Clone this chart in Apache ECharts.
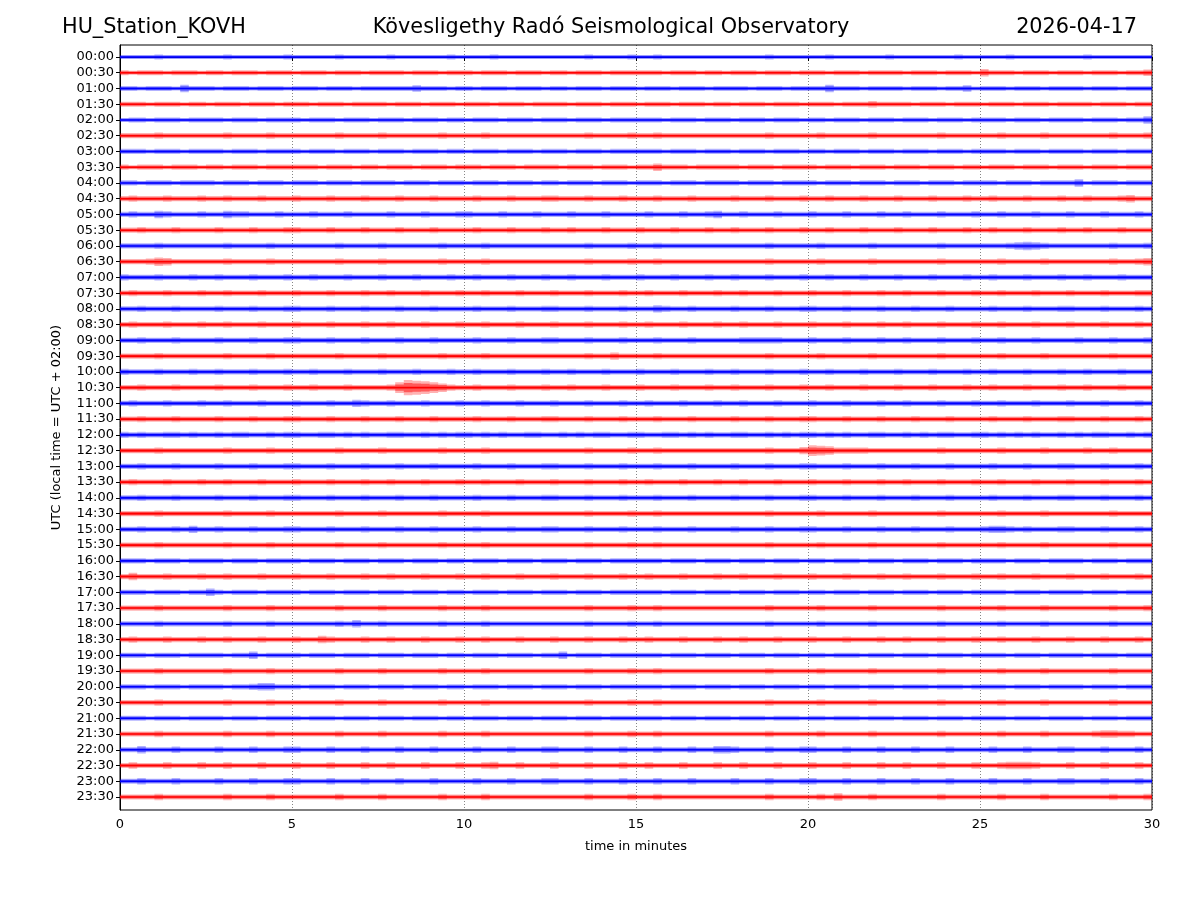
<!DOCTYPE html>
<html><head><meta charset="utf-8">
<script src="https://cdn.jsdelivr.net/npm/echarts@6/dist/echarts.min.js"></script>
<style>html,body{margin:0;background:#fff}#c{width:1200px;height:900px}</style>
</head><body><div id="c"></div>
<script>
// Trace start times (one helicorder line per 30 minutes)
const timeLabels = ["00:00","00:30","01:00","01:30","02:00","02:30","03:00","03:30","04:00","04:30","05:00","05:30",
"06:00","06:30","07:00","07:30","08:00","08:30","09:00","09:30","10:00","10:30","11:00","11:30",
"12:00","12:30","13:00","13:30","14:00","14:30","15:00","15:30","16:00","16:30","17:00","17:30",
"18:00","18:30","19:00","19:30","20:00","20:30","21:00","21:30","22:00","22:30","23:00","23:30"];
const xTicks = [0, 5, 10, 15, 20, 25, 30];
const binMinutes = 0.25;   // each character = 15 s bin
const ampBase = 0.06;      // half-thickness of the trace itself, in trace-spacing units
const ampUnit = 0.035;     // one amplitude step, in trace-spacing units
// Half-envelope amplitude per bin (base-36 digits)
const traceAmp = [
"2222322222 2232222223 2222232222 2322222232 2223222222 2222322223 2232222222 2222232222 2232222223 2222222322 2223222222 2232222222",
"3233323332 3323332333 2333233323 3332333233 3233323332 3323332333 3332333233 2333233323 3323332333 3233323332 5333233323 3323332334",
"3323332533 3233323332 3332333233 3333433323 3233323332 3323332333 2333233323 3332333233 3353332333 3233323342 3332333233 3323332333",
"3332333233 2333233323 3323332333 3233323332 3332333233 3323332333 2333233323 3233323332 3332333433 3323332333 2333233323 3332333233",
"2332333233 3323332333 3233323332 3332333233 2333233323 3323332333 3332333233 3233323332 3323332333 2333233323 3332333233 3323332335",
"3333433333 3343333433 3333343333 4333333433 3343333333 3333433334 3343333333 3333343333 3433333433 3333343333 3343333433 3333343334",
"3332333233 3323332333 3233323332 3332333233 2333233323 3323332333 3332333233 3233323332 3323332333 2333233323 3332333233 3323332333",
"3233323332 3323332333 3332333233 2333233323 3323332333 3233323332 3353332333 3323332333 3233323332 3332333233 2333233323 3323332333",
"3323332333 3233323332 3332333233 3323332333 2333233323 3233323332 3332333233 3323332333 3233323332 3332333233 3323332333 3523332333",
"3433343334 3343334333 4333433343 3343334333 3433343334 4333433343 3343334333 3433343334 3343334333 4333433343 3433343334 3343334533",
"3433543334 3354433343 3343334333 3433343334 4333433343 3343334333 3433343345 3343334333 4333433343 3433343334 3343334333 4333433343",
"3343334333 3433343334 4333433343 3343334333 3433343334 3343334333 4333433343 3433343334 3343334333 4333433343 3433343334 3343334333",
"3333433333 3343333433 3333343333 4333333433 3343333333 3333433334 3343333333 3333343333 3433333433 3333343333 3334565433 3333343334",
"3334653333 3343333433 3333343333 4333333433 3343333333 3333433334 3343333333 3333343333 3433333433 3333343333 3343333433 3333343345",
"4333433343 3433343334 3343334333 4333433343 3433343334 3343334333 4333433343 3433343334 3343334333 4333433343 3433343334 3343334333",
"3433343334 3343334333 4333433343 3433343334 3343334333 4333433343 3433343334 3343334333 4333433343 3433343334 3343334333 4333433344",
"3343334333 3433343334 4333433343 3343334333 3433343334 4333433343 3354334333 3433343334 4333433343 3343334333 3433343334 4333433343",
"3433343334 3343334333 4333433343 3433343334 3343334333 4333433343 3433343334 3343334333 4333433343 3433343334 3343334333 4333433343",
"3343334333 3433343334 4333433343 3343334333 3433343334 4333433343 3343334333 3344444333 4333433343 3433343334 3343334333 3433343334",
"3333433333 3343333433 3333343333 4333333433 3343333333 3333433533 3343333333 3333343333 3433333433 3333343333 3343333433 3333343333",
"4333433343 3433343334 3343334333 4333433343 3433343334 3343334333 4333433343 3433343334 3343334333 4333433343 3433343334 3343334333",
"3343334333 3433343334 3343334333 348cba8643 3433343334 3343334333 4333433343 3433343334 3343334333 4333433343 3433343334 3343334333",
"3433343334 3343334333 4333433543 3433343334 3343334333 4333433343 3433343334 3343334333 4333433343 3433343334 3343334333 4333433343",
"3343334333 3433343334 4333433343 3343334333 3433343334 4333433343 3343334333 3433343334 4333433343 3343334333 3433343334 4333433343",
"4343344343 3434433434 4334434343 3443343434 4343433443 3434344334 4334434343 3443343434 4343433443 3434344334 4343434334 3434433434",
"3333433333 3343333433 3333343333 4333333433 3343333333 3333433334 3343333333 3333343335 8764444333 3333343333 3343333433 3343343333",
"3343334333 3433343334 4333433343 3343334333 3433343334 4333433343 3343334333 3433343334 4333433343 3343334333 3433343334 4333433343",
"3433343334 3343334333 4333433343 3433343334 3343334333 4333433343 3433343334 3343334333 4333433343 3433343334 3343334333 4333433343",
"3343334333 3433343334 4333433343 3343334333 3433343334 4333433343 3343334333 3433343334 4333433343 3343334333 3433343334 4333433343",
"3333433333 3343333433 3333343333 4333333433 3343333333 3333433334 3343333333 3333343333 3433333433 3333343333 3343333433 3333343333",
"3343334353 3433343334 4333433343 3343334333 3433343334 4333433343 3343334333 3433343334 4333433343 3343334333 4554343334 4333433343",
"3333433333 3343333433 3333343333 4333333433 3343333333 3333433334 3343333333 3333343333 3433333433 3333343333 3343333433 3333343333",
"3332333233 3323332333 3233323332 3332333233 2333233323 3323332333 3332333233 3233323332 3323332333 2333233323 3332333233 3323332333",
"3533343334 3343334333 4333433343 3433343334 3343334333 4333433343 3433343334 3343334333 4333433343 3433343334 3343334333 4333433343",
"3332333233 5323332333 3233323332 3332333233 2333233323 3323332333 3332333233 3233323332 3323332333 2333233323 3332333233 3323332333",
"3333433333 3343333433 3333343333 4333333433 3343333333 3333433334 3343333333 3333343333 3433333433 3333343333 3343333433 3333343334",
"3333433333 3343333433 3333343533 4333333433 3343333333 3333433334 3343333333 3333343333 3433333433 3333343333 3343333433 3333343333",
"3433343334 3343334333 4335433343 3433343334 3343334333 4333433343 3433343334 3343334333 4333433343 3433343334 3343334333 4333433343",
"3332333233 3323352333 3233323332 3332333233 2333233323 3523332333 3332333233 3233323332 3323332333 2333233323 3332333233 3323332333",
"3333433333 3343333433 3333343333 4333333433 3343333333 3333433334 3343333333 3333343333 3433333433 3333343333 3343333433 3333343333",
"3332333233 3323345533 3233323332 3332333233 2333233323 3323332333 3332333233 3233323332 3323332333 2333233323 3332333233 3323332333",
"3333433333 3343333433 3333343333 4333333433 3343333333 3333433334 3343333333 3333343333 3433333433 3333343333 3343333433 3333343333",
"3332333233 3323332333 3233323332 3332333233 2333233323 3323332333 3332333233 3233323332 3323332333 2333233323 3332333233 3323332333",
"3333433333 3343333433 3333343333 4333333433 3343333333 3333433334 3343333333 3333343333 3433333433 3333343333 3343333433 3334554433",
"3353334333 3433343334 4333433343 3343334333 3433343334 4333433343 3343334335 5433343334 4333433343 3343334333 3433343334 4333433343",
"3433343334 3343334333 4333433343 3433343334 3345334333 4333433343 3433343334 3343334333 4333433343 3433343334 3345554333 4333433343",
"3343334333 3433343334 4333433343 3343334333 3433343334 4333433343 3343334333 3433343334 4333433343 3343334333 3433343334 4333433343",
"3333433333 3343333433 3333343333 4333333433 3343333333 3333433334 3343333333 3333343333 3435333433 3333343333 3343333433 3333343334"
];
const traceColors = ["#0000ff", "#ff0000"];

function parseAmp(s) {
  return s.replace(/\s+/g, "").split("").map(c => parseInt(c, 36));
}
const ampData = traceAmp.map(parseAmp);
const totalMinutes = 30;

const chart = echarts.init(document.getElementById('c'), null, {renderer: 'canvas'});
const font = 'DejaVu Sans';
const titleStyle = {fontFamily: font, fontSize: 20.8, fill: '#000', textVerticalAlign: 'middle'};

function envelope(api, i, a, scale) {
  const up = [], dn = [];
  for (let k = 0; k < a.length; k++) {
    const x0 = k * binMinutes, x1 = (k + 1) * binMinutes;
    const h = (ampBase + a[k] * ampUnit) * scale;
    up.push(api.coord([x0, i - h]));
    up.push(api.coord([x1, i - h]));
    dn.push(api.coord([x0, i + h]));
    dn.push(api.coord([x1, i + h]));
  }
  return up.concat(dn.reverse());
}

const option = {
  animation: false,
  backgroundColor: '#fff',
  textStyle: {fontFamily: font},
  grid: {left: 120, top: 45, width: 1032, height: 765, show: true, borderColor: '#000', borderWidth: 1, containLabel: false},
  graphic: [
    {type: 'text', x: 62, y: 28, style: Object.assign({text: 'HU_Station_KOVH', textAlign: 'left'}, titleStyle)},
    {type: 'text', x: 611, y: 28, style: Object.assign({text: 'Kövesligethy Radó Seismological Observatory', textAlign: 'center'}, titleStyle)},
    {type: 'text', x: 1137, y: 28, style: Object.assign({text: '2026-04-17', textAlign: 'right'}, titleStyle)}
  ],
  xAxis: {
    type: 'value', min: 0, max: 30, interval: 5,
    axisLine: {show: true, lineStyle: {color: '#000', width: 1}},
    axisTick: {show: true, length: 4, lineStyle: {color: '#000'}},
    axisLabel: {color: '#000', fontSize: 13, margin: 8, fontFamily: font, customValues: xTicks},
    splitLine: {show: true, lineStyle: {color: '#000', type: [1, 2], width: 0.6, opacity: 0.8}},
    name: 'time in minutes', nameLocation: 'middle', nameGap: 30,
    nameTextStyle: {color: '#000', fontSize: 13, fontFamily: font}
  },
  yAxis: {
    type: 'value', inverse: true, min: -0.762, max: 47.826,
    axisLine: {show: true, lineStyle: {color: '#000', width: 1}},
    axisTick: {show: true, length: 4, lineStyle: {color: '#000'}, customValues: timeLabels.map((t, i) => i)},
    axisLabel: {color: '#000', fontSize: 13, margin: 6, fontFamily: font,
      customValues: timeLabels.map((t, i) => i),
      formatter: v => timeLabels[Math.round(v)]},
    splitLine: {show: false},
    name: 'UTC (local time = UTC + 02:00)', nameLocation: 'middle', nameGap: 57, nameRotate: 90,
    nameTextStyle: {color: '#000', fontSize: 13, fontFamily: font}
  },
  series: [{
    type: 'custom',
    clip: true,
    data: timeLabels.map((t, i) => [0, i]),
    encode: {x: 0, y: 1},
    renderItem: function (params, api) {
      const i = params.dataIndex;
      const a = ampData[i];
      const color = traceColors[i % 2];
      const p0 = api.coord([0, i]);
      const p1 = api.coord([totalMinutes, i]);
      return {
        type: 'group',
        children: [
          {type: 'polygon', shape: {points: envelope(api, i, a, 1)}, style: {fill: color, opacity: 0.3}},
          {type: 'polygon', shape: {points: envelope(api, i, a, 0.6)}, style: {fill: color, opacity: 0.5}},
          {type: 'line', shape: {x1: p0[0], y1: p0[1], x2: p1[0], y2: p1[1]}, style: {stroke: color, lineWidth: 1.6}}
        ]
      };
    }
  }]
};
chart.setOption(option);
</script>
</body></html>
